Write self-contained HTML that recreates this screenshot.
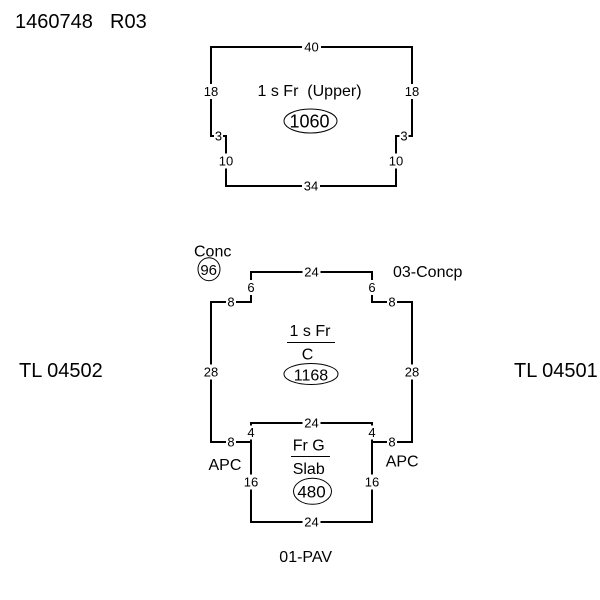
<!DOCTYPE html>
<html>
<head>
<meta charset="utf-8">
<style>
  html, body { margin: 0; padding: 0; background: #fff; }
  svg { display: block; }
  text { font-family: "Liberation Sans", Arial, sans-serif; fill: #000; }
  .s { font-size: 13px; text-anchor: middle; }
  .m { font-size: 16px; }
</style>
</head>
<body>
<svg width="600" height="600" viewBox="0 0 600 600" xmlns="http://www.w3.org/2000/svg">
  <rect x="0" y="0" width="600" height="600" fill="#fff"/>

  <!-- Title -->
  <text x="15" y="28" style="font-size:20px">1460748</text>
  <text x="110" y="28" style="font-size:20px">R03</text>

  <!-- Top figure -->
  <path d="M211,47 H412 V136 H396 V186 H226 V136 H211 Z" fill="none" stroke="#000" stroke-width="2" stroke-linejoin="miter"/>

  <!-- Lower figure -->
  <path d="M251,442 H211 V302 H251 V272 H372 V302 H412 V442 H372" fill="none" stroke="#000" stroke-width="2"/>
  <path d="M251,423 H372 V522 H251 Z" fill="none" stroke="#000" stroke-width="2"/>

  <!-- small label backgrounds -->
  <g fill="#fff">
    <rect x="302" y="40" width="19" height="14"/>
    <rect x="203" y="84" width="17" height="15"/>
    <rect x="404" y="84" width="17" height="15"/>
    <rect x="214" y="129" width="9" height="14"/>
    <rect x="399.5" y="129" width="9" height="14"/>
    <rect x="218" y="153.5" width="17" height="15"/>
    <rect x="388" y="153.5" width="17" height="15"/>
    <rect x="302" y="179" width="18" height="14"/>
    <rect x="302.5" y="265" width="18" height="14"/>
    <rect x="246" y="280" width="10" height="15"/>
    <rect x="367" y="280" width="10" height="15"/>
    <rect x="226" y="295" width="10" height="14"/>
    <rect x="387" y="295" width="10" height="14"/>
    <rect x="203" y="364.5" width="17" height="15"/>
    <rect x="404" y="364.5" width="17" height="15"/>
    <rect x="302.5" y="416" width="18" height="14"/>
    <rect x="246" y="425.5" width="10" height="14"/>
    <rect x="367" y="425.5" width="10" height="14"/>
    <rect x="226" y="435" width="10" height="14"/>
    <rect x="387" y="435" width="10" height="14"/>
    <rect x="243" y="474.5" width="17" height="15"/>
    <rect x="364" y="474.5" width="17" height="15"/>
    <rect x="302.5" y="515" width="18" height="14"/>
  </g>

  <!-- small labels -->
  <g class="s">
    <text class="s" x="311.5" y="51.7">40</text>
    <text class="s" x="211" y="96.2">18</text>
    <text class="s" x="412" y="96.2">18</text>
    <text class="s" x="218.5" y="140.7">3</text>
    <text class="s" x="404" y="140.7">3</text>
    <text class="s" x="226" y="165.7">10</text>
    <text class="s" x="396" y="165.7">10</text>
    <text class="s" x="311" y="190.7">34</text>

    <text class="s" x="311.5" y="276.7">24</text>
    <text class="s" x="251" y="292">6</text>
    <text class="s" x="372" y="292">6</text>
    <text class="s" x="231" y="306.7">8</text>
    <text class="s" x="392" y="306.7">8</text>
    <text class="s" x="211" y="376.7">28</text>
    <text class="s" x="412" y="376.7">28</text>
    <text class="s" x="311.5" y="427.7">24</text>
    <text class="s" x="251" y="437.2">4</text>
    <text class="s" x="372" y="437.2">4</text>
    <text class="s" x="231" y="446.7">8</text>
    <text class="s" x="392" y="446.7">8</text>
    <text class="s" x="251" y="486.7">16</text>
    <text class="s" x="372" y="486.7">16</text>
    <text class="s" x="311.5" y="526.7">24</text>
  </g>

  <!-- top figure center text -->
  <text class="m" x="257.5" y="96" xml:space="preserve">1 s Fr  (Upper)</text>
  <ellipse cx="310.5" cy="121" rx="26.5" ry="12" fill="none" stroke="#000" stroke-width="1"/>
  <text x="309.5" y="127.5" style="font-size:18px;text-anchor:middle">1060</text>

  <!-- Conc circle -->
  <text class="m" x="194" y="256.5">Conc</text>
  <ellipse cx="209" cy="269.2" rx="11" ry="11.5" fill="none" stroke="#000" stroke-width="1"/>
  <text x="208.7" y="275" style="font-size:15px;text-anchor:middle">96</text>

  <text class="m" x="393" y="277">03-Concp</text>

  <!-- upper middle block -->
  <text x="310" y="336" style="font-size:16px;text-anchor:middle">1 s Fr</text>
  <line x1="287" y1="342.5" x2="335" y2="342.5" stroke="#000" stroke-width="1"/>
  <text x="307.5" y="359.5" style="font-size:16px;text-anchor:middle">C</text>
  <ellipse cx="311" cy="374" rx="27" ry="10.5" fill="none" stroke="#000" stroke-width="1"/>
  <text x="311" y="380.5" style="font-size:16px;text-anchor:middle">1168</text>

  <!-- side labels -->
  <text x="19" y="377" style="font-size:20px">TL 04502</text>
  <text x="514" y="377" style="font-size:20px">TL 04501</text>

  <!-- lower block -->
  <text class="m" x="292.7" y="450.5">Fr G</text>
  <line x1="291" y1="456.5" x2="330" y2="456.5" stroke="#000" stroke-width="1"/>
  <text class="m" x="292.7" y="474">Slab</text>
  <ellipse cx="312.5" cy="491.3" rx="19" ry="13" fill="none" stroke="#000" stroke-width="1"/>
  <text x="311.5" y="497.5" style="font-size:17px;text-anchor:middle">480</text>

  <text class="m" x="208.5" y="470">APC</text>
  <text class="m" x="385.7" y="466.7">APC</text>

  <text class="m" x="279.3" y="562">01-PAV</text>
</svg>
</body>
</html>
